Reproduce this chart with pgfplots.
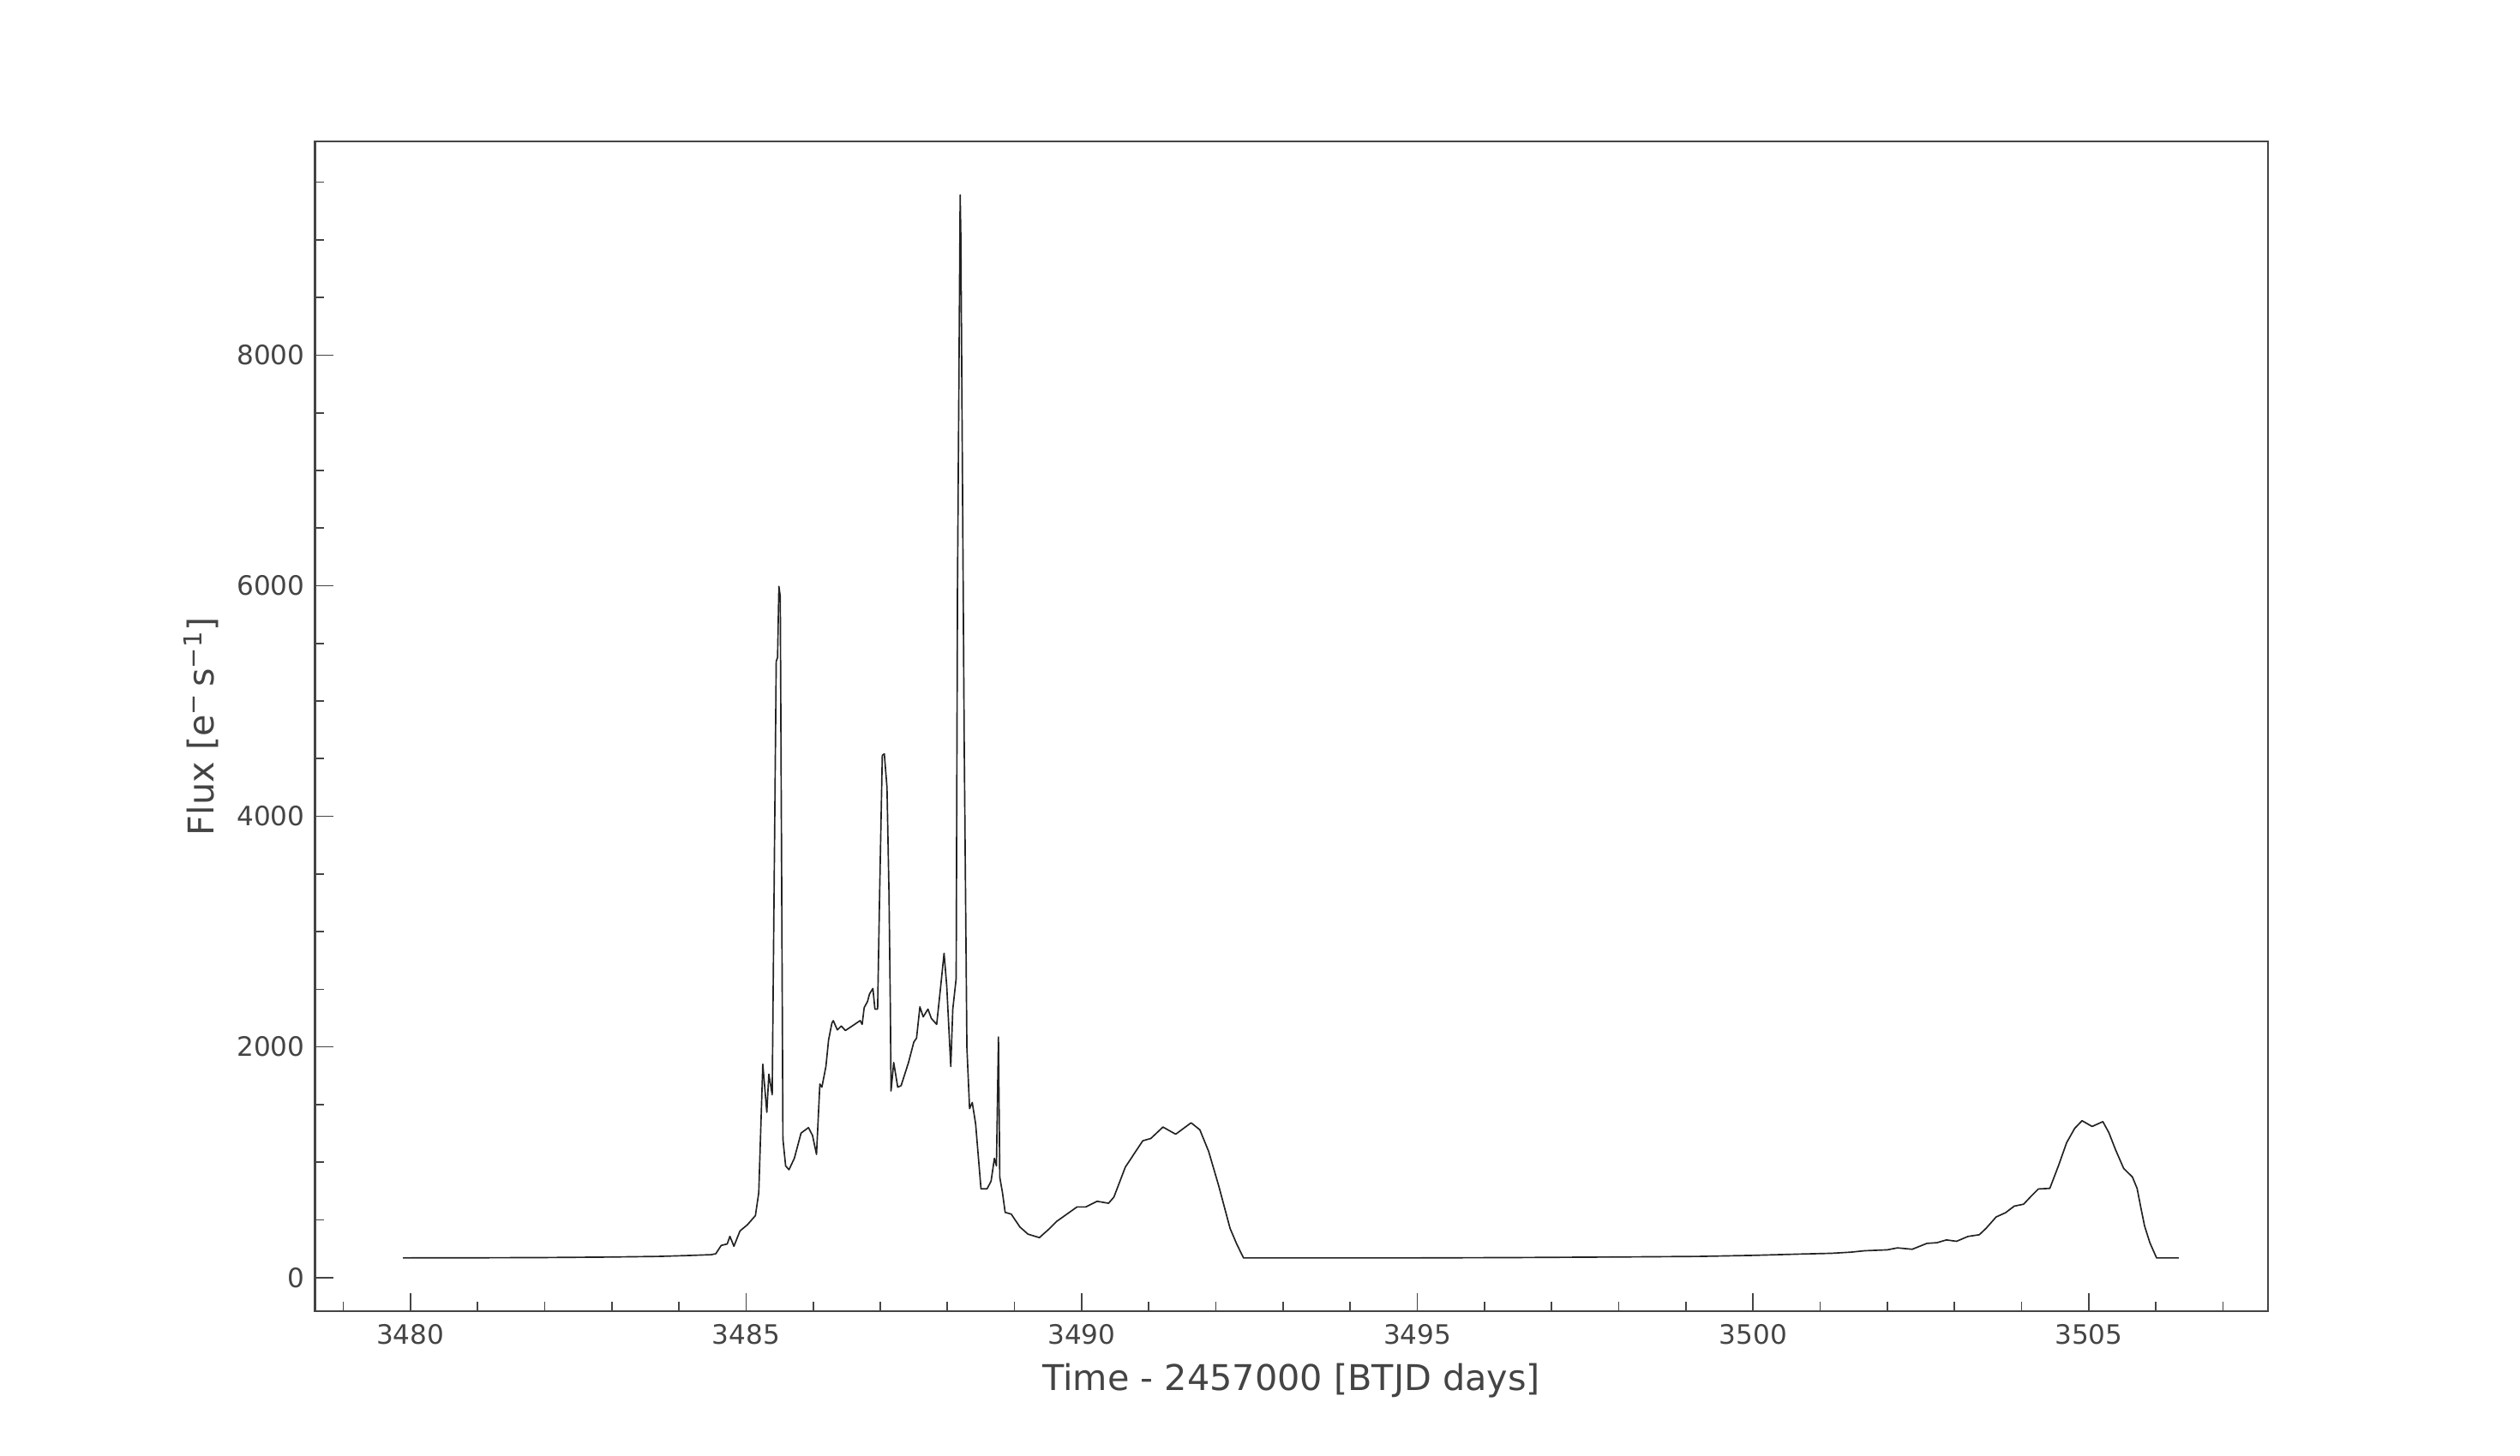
\documentclass[border=0pt]{standalone}
\usepackage{pgfplots}
\pgfplotsset{compat=1.18}
\usepackage{fontspec}
\setmainfont{DejaVu Sans}

\definecolor{txt}{HTML}{444444}
\definecolor{curve}{HTML}{222222}

% light curve (time in BTJD, flux in e/s)
\pgfplotstableread{
t flux
3479.89 170
3481.00 171
3482.00 173
3482.90 177
3483.70 183
3484.10 190
3484.48 198
3484.55 206
3484.63 278
3484.72 291
3484.76 357
3484.82 271
3484.91 404
3485.02 457
3485.14 537
3485.19 736
3485.25 1850
3485.31 1433
3485.34 1764
3485.39 1585
3485.45 5345
3485.47 5378
3485.49 5994
3485.51 5908
3485.55 1200
3485.59 968
3485.64 935
3485.72 1034
3485.82 1253
3485.93 1300
3485.99 1233
3486.05 1068
3486.10 1678
3486.13 1651
3486.19 1830
3486.23 2062
3486.28 2208
3486.30 2228
3486.36 2148
3486.42 2181
3486.48 2142
3486.70 2228
3486.73 2195
3486.76 2341
3486.81 2394
3486.84 2460
3486.89 2507
3486.92 2328
3486.96 2328
3486.99 3322
3487.03 4529
3487.06 4542
3487.10 4250
3487.13 3322
3487.15 2328
3487.16 1618
3487.20 1864
3487.26 1651
3487.31 1664
3487.42 1864
3487.50 2043
3487.54 2076
3487.59 2348
3487.64 2261
3487.71 2328
3487.76 2248
3487.84 2195
3487.90 2527
3487.95 2812
3487.99 2527
3488.05 1830
3488.08 2328
3488.13 2593
3488.15 5974
3488.19 9390
3488.20 9025
3488.25 4648
3488.29 1996
3488.33 1465
3488.37 1518
3488.42 1333
3488.50 769
3488.59 769
3488.65 835
3488.70 1034
3488.73 968
3488.76 2086
3488.78 868
3488.82 736
3488.86 565
3488.95 550
3489.08 438
3489.20 376
3489.37 346
3489.52 424
3489.63 488
3489.93 612
3490.06 612
3490.23 661
3490.40 644
3490.48 698
3490.65 958
3490.91 1186
3491.03 1206
3491.21 1305
3491.40 1243
3491.63 1342
3491.76 1281
3491.89 1095
3492.04 797
3492.21 426
3492.31 289
3492.41 170
3493.67 170
3495.00 170
3496.50 173
3498.00 178
3499.20 183
3500.00 192
3500.68 203
3501.17 210
3501.46 220
3501.66 232
3502.00 240
3502.15 257
3502.37 245
3502.59 296
3502.74 302
3502.88 326
3503.03 314
3503.20 356
3503.37 371
3503.47 426
3503.62 525
3503.76 562
3503.89 619
3504.03 636
3504.13 698
3504.25 768
3504.42 773
3504.55 971
3504.67 1169
3504.79 1293
3504.90 1360
3505.05 1310
3505.21 1352
3505.30 1256
3505.40 1107
3505.52 946
3505.65 872
3505.72 773
3505.77 624
3505.83 450
3505.91 302
3506.01 170
3506.34 170
}\lc

\begin{document}
\begin{tikzpicture}
\path[use as bounding box] (-132.3pt,-60.48pt) rectangle (926.1pt,550.8pt);
\begin{axis}[
	at={(0,0)}, anchor=south west,
	scale only axis,
	width=820.26pt, height=491.4pt,
	xmin=3478.58, xmax=3507.67,
	ymin=-292, ymax=9854,
	xtick={3480,3485,...,3505},
	minor xtick={3479,3481,3482,3483,3484,3486,3487,3488,3489,3491,3492,3493,3494,3496,3497,3498,3499,3501,3502,3503,3504,3506,3507},
	ytick={0,2000,...,8000},
	minor ytick={500,1000,1500,2500,3000,3500,4500,5000,5500,6500,7000,7500,8500,9000,9500},
	tick pos=left,
	tick align=inside,
	major tick length=7.6pt,
	minor tick length=3.8pt,
	every tick/.style={txt, line width=0.6pt},
	axis line style={txt, line width=0.9pt},
	scaled ticks=false,
	/pgf/number format/assume math mode=true,
	/pgf/number format/1000 sep={},
	ticklabel style={font=\fontsize{11.2pt}{13pt}\selectfont, text=txt},
	xticklabel style={anchor=base, yshift=-14pt},
	yticklabel style={anchor=east, inner sep=0pt, xshift=-4.1pt},
	every axis x label/.style={at={(axis description cs:0.5,-0.0674)}, anchor=base,
		font=\fontsize{14.9pt}{17pt}\selectfont, text=txt},
	every axis y label/.style={at={(axis description cs:-0.0516,0.5)}, rotate=90, anchor=base,
		font=\fontsize{14.9pt}{17pt}\selectfont, text=txt},
	xlabel={Time - 2457000 [BTJD days]},
	ylabel={Flux [e\textsuperscript{−}\,s\textsuperscript{−1}]},
]
\addplot[curve, line width=0.6pt, line join=round] table[x=t, y=flux] {\lc};
\end{axis}
\end{tikzpicture}
\end{document}
